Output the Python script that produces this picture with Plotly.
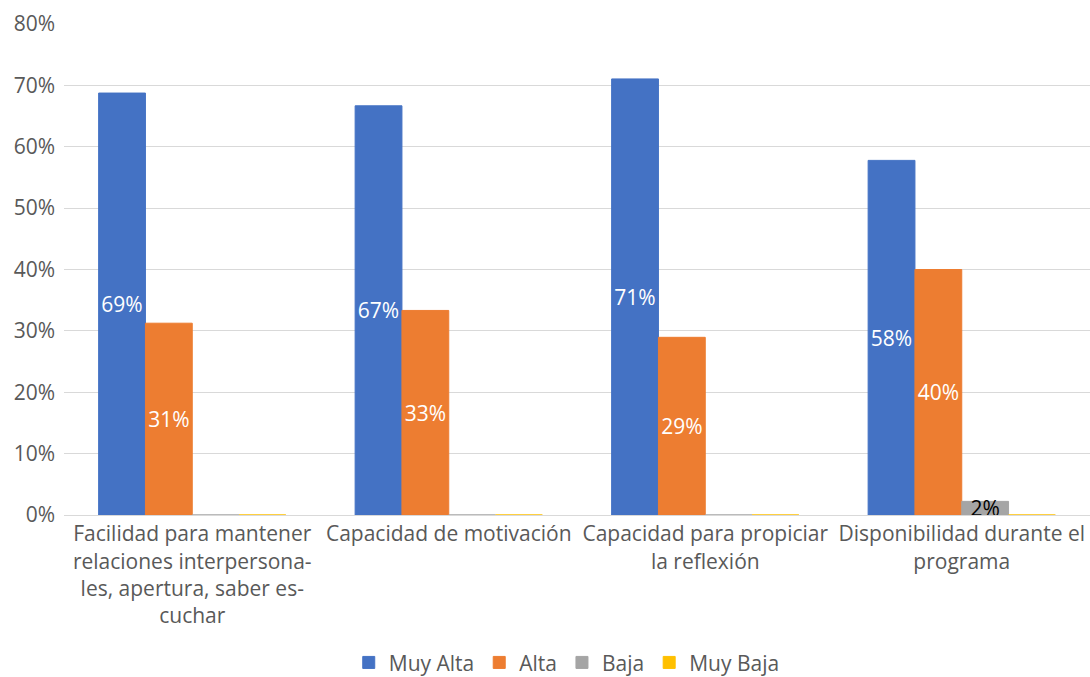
import plotly.graph_objects as go

categories = [
    "Facilidad para mantener<br>relaciones interpersona-<br>les, apertura, saber es-<br>cuchar",
    "Capacidad de motivación",
    "Capacidad para propiciar<br>la reflexión",
    "Disponibilidad durante el<br>programa",
]
muy_alta = [0.6875, 0.6667, 0.7105, 0.5778]
alta = [0.3125, 0.3333, 0.2895, 0.4000]
baja = [0.0, 0.0, 0.0, 0.0222]
muy_baja = [0.0, 0.0, 0.0, 0.0]

series = [
    ("Muy Alta", muy_alta, "#4472C4", "white"),
    ("Alta", alta, "#ED7D31", "white"),
    ("Baja", baja, "#A5A5A5", "black"),
    ("Muy Baja", muy_baja, "#FFC000", "black"),
]

FONT = "'Open Sans', Lato, sans-serif"
GREY = "#595959"

fig = go.Figure()
for name, vals, color, tcolor in series:
    fig.add_trace(go.Bar(
        name=name,
        x=categories,
        y=vals,
        marker=dict(color=color, line=dict(color=color, width=1)),
        text=[f"{v:.0%}" if v > 0 else "" for v in vals],
        textposition="inside",
        insidetextanchor="middle",
        textangle=0,
        textfont=dict(color=tcolor, size=21, family=FONT),
        hoverinfo="skip",
    ))

fig.update_layout(
    width=1090,
    height=677,
    margin=dict(l=64, r=0, t=24, b=162),
    paper_bgcolor="white",
    plot_bgcolor="white",
    barmode="group",
    bargap=0.27,
    bargroupgap=0,
    font=dict(family=FONT, color=GREY, size=21),
    uniformtext=dict(minsize=21, mode="show"),
    showlegend=True,
    legend=dict(
        orientation="h",
        x=0.49, xanchor="center",
        yref="container",
        y=0.021, yanchor="middle",
        font=dict(size=21, color=GREY),
        itemwidth=30,
        traceorder="normal",
    ),
    xaxis=dict(
        showgrid=False,
        showline=True,
        linecolor="#D9D9D9",
        linewidth=1,
        tickfont=dict(size=21, color=GREY),
        tickangle=0,
        ticks="",
        automargin=False,
    ),
    yaxis=dict(
        range=[0, 0.8],
        dtick=0.1,
        tickformat=".0%",
        showgrid=True,
        gridcolor="#D9D9D9",
        gridwidth=1,
        zeroline=False,
        showline=False,
        tickfont=dict(size=21, color=GREY),
        ticks="",
        ticklabelstandoff=8,
        automargin=False,
    ),
)

fig.write_html("out.html")
